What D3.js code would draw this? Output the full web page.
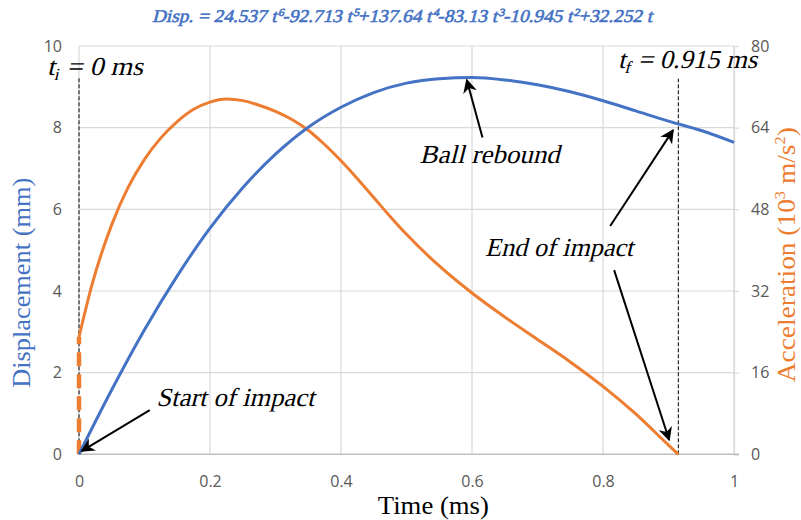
<!DOCTYPE html>
<html>
<head>
<meta charset="utf-8">
<script src="https://cdn.jsdelivr.net/npm/d3@7"></script>
<style>
  body { margin: 0; background: #fff; }
  svg { display: block; }
</style>
</head>
<body>
<script>
// time in ms
const time = [0, 0.05, 0.1, 0.15, 0.2, 0.25, 0.3, 0.35, 0.4, 0.45, 0.5, 0.55, 0.6, 0.65, 0.7, 0.75, 0.8, 0.85, 0.9, 0.95, 1.0];
// displacement in mm
const disp = [0, 1.58, 3.05, 4.37, 5.54, 6.53, 7.35, 8.01, 8.50, 8.86, 9.09, 9.20, 9.23, 9.17, 9.05, 8.88, 8.66, 8.41, 8.16, 7.93, 7.64];

// acceleration (10^3 m/s^2), orange curve
const accTime = [0, 0.02, 0.05, 0.075, 0.1, 0.125, 0.15, 0.175, 0.2, 0.225, 0.25, 0.275, 0.3, 0.325, 0.35, 0.375, 0.4, 0.425, 0.45, 0.475, 0.5, 0.55, 0.6, 0.65, 0.7, 0.75, 0.8, 0.85, 0.9, 0.915];
const acc = [23, 33.3, 45, 52.3, 57.8, 62, 65.2, 67.6, 69.0, 69.6, 69.3, 68.4, 67.2, 65.6, 63.5, 60.7, 57.5, 54.0, 50.3, 46.6, 43.1, 36.9, 31.6, 26.9, 22.5, 18.1, 13.3, 7.9, 1.8, 0];

const dispTicks = [0, 2, 4, 6, 8, 10];
const accTicks = [0, 16, 32, 48, 64, 80];
const timeTicks = [0, 0.2, 0.4, 0.6, 0.8, 1];

const tImpactStart = 0, tImpactEnd = 0.915;

const w = 801, h = 520;
const blue = "#4472c4", orange = "#ed7d31";
const serif = "'Liberation Serif', 'Times New Roman', serif";

const x = d3.scaleLinear().domain([0, 1]).range([79, 734]);
const yL = d3.scaleLinear().domain([0, 10]).range([454.3, 46]);
const yR = d3.scaleLinear().domain([0, 80]).range([454.3, 46]);

const svg = d3.select("body").append("svg")
  .attr("width", w).attr("height", h);

svg.append("defs").append("marker")
  .attr("id", "arr")
  .attr("viewBox", "0 0 10 10")
  .attr("refX", 9).attr("refY", 5)
  .attr("markerWidth", 7).attr("markerHeight", 7)
  .attr("markerUnits", "strokeWidth")
  .attr("orient", "auto")
  .append("path")
  .attr("d", "M0,0 L10,5 L0,10 L3,5 Z")
  .attr("fill", "#000");

// grid
svg.append("g").selectAll("line")
  .data(dispTicks.slice(1))
  .enter().append("line")
  .attr("x1", x(0)).attr("x2", x(1))
  .attr("y1", d => yL(d)).attr("y2", d => yL(d))
  .attr("stroke", "#d9d9d9").attr("stroke-width", 1.2);

svg.append("g").selectAll("line")
  .data(timeTicks)
  .enter().append("line")
  .attr("x1", d => x(d)).attr("x2", d => x(d))
  .attr("y1", yL(0)).attr("y2", yL(10))
  .attr("stroke", "#d9d9d9").attr("stroke-width", 1.2);

// axes
const leftAxis = svg.append("g")
  .attr("transform", "translate(" + x(0) + ",0)")
  .call(d3.axisLeft(yL).tickValues(dispTicks).tickSize(0).tickPadding(17));
leftAxis.select(".domain").remove();

const rightAxis = svg.append("g")
  .attr("transform", "translate(" + x(1) + ",0)")
  .call(d3.axisRight(yR).tickValues(accTicks).tickSize(5).tickPadding(12));
rightAxis.select(".domain").attr("stroke", "#d9d9d9").attr("stroke-width", 1.2);
rightAxis.selectAll(".tick line").attr("stroke", "#d9d9d9").attr("stroke-width", 1.2);

const bottomAxis = svg.append("g")
  .attr("transform", "translate(0," + yL(0) + ")")
  .call(d3.axisBottom(x).tickValues(timeTicks).tickSize(0).tickPadding(21).tickFormat(d3.format("")));
bottomAxis.select(".domain").attr("stroke", "#bfbfbf").attr("stroke-width", 1.4)
  .attr("d", "M" + x(0) + ",0H" + (x(1) + 5));

svg.selectAll(".tick text")
  .attr("fill", "#595959")
  .style("font-family", "'Open Sans', sans-serif")
  .style("font-size", "16px");

// axis titles
svg.append("text")
  .attr("transform", "translate(30," + yL(4.2) + ") rotate(-90)")
  .attr("text-anchor", "middle")
  .attr("fill", blue)
  .attr("textLength", 210)
  .attr("lengthAdjust", "spacingAndGlyphs")
  .style("font-family", serif)
  .style("font-size", "26px")
  .text("Displacement (mm)");

const accLabel = svg.append("text")
  .attr("transform", "translate(795," + yR(39.1) + ") rotate(-90)")
  .attr("text-anchor", "middle")
  .attr("fill", orange)
  .attr("textLength", 255)
  .attr("lengthAdjust", "spacingAndGlyphs")
  .style("font-family", serif)
  .style("font-size", "25px");
accLabel.append("tspan").text("Acceleration (10");
accLabel.append("tspan").attr("dy", -10).style("font-size", "15px").text("3");
accLabel.append("tspan").attr("dy", 10).text(" m/s");
accLabel.append("tspan").attr("dy", -10).style("font-size", "15px").text("2");
accLabel.append("tspan").attr("dy", 10).text(")");

svg.append("text")
  .attr("x", x(0.541)).attr("y", 514)
  .attr("text-anchor", "middle")
  .attr("fill", "#000")
  .attr("textLength", 111)
  .attr("lengthAdjust", "spacingAndGlyphs")
  .style("font-family", serif)
  .style("font-size", "26px")
  .text("Time (ms)");

// italic is faked with a skew, the serif face has no italic here
function slanted(px, py, len) {
  return svg.append("text")
    .attr("transform", "translate(" + px + "," + py + ") skewX(-14)")
    .attr("textLength", len)
    .attr("lengthAdjust", "spacingAndGlyphs")
    .style("font-family", serif);
}

// title with the fitted polynomial
const coef = ["24.537", "-92.713", "+137.64", "-83.13", "-10.945", "+32.252"];
const pw = ["6", "5", "4", "3", "2", ""];
const title = slanted(152, 22, 500)
  .attr("fill", blue)
  .attr("stroke", blue).attr("stroke-width", 0.6)
  .style("font-size", "18px");
title.append("tspan").text("Disp. = ");
coef.forEach((c, i) => {
  title.append("tspan").attr("dy", i === 0 ? 0 : 6).text(c + " t");
  if (pw[i]) title.append("tspan").attr("dy", -6).style("font-size", "11px").text(pw[i]);
});

// dashed markers for start and end of impact
svg.append("line")
  .attr("x1", x(tImpactStart)).attr("x2", x(tImpactStart))
  .attr("y1", yL(0)).attr("y2", yL(9.22))
  .attr("stroke", "#000").attr("stroke-width", 1).attr("stroke-dasharray", "4,2");
svg.append("line")
  .attr("x1", x(tImpactEnd)).attr("x2", x(tImpactEnd))
  .attr("y1", yL(0)).attr("y2", yL(9.2))
  .attr("stroke", "#000").attr("stroke-width", 1).attr("stroke-dasharray", "4,2");

// curves
const lineD = d3.line()
  .x((d, i) => x(time[i]))
  .y(d => yL(d))
  .curve(d3.curveMonotoneX);

const lineA = d3.line()
  .x((d, i) => x(accTime[i]))
  .y(d => yR(d))
  .curve(d3.curveMonotoneX);

// dashed jump of acceleration at t = 0
svg.append("path")
  .datum([[0, 0], [0, acc[0]]])
  .attr("d", d3.line().x(d => x(d[0])).y(d => yR(d[1])))
  .attr("fill", "none")
  .attr("stroke", orange).attr("stroke-width", 4.5)
  .attr("stroke-dasharray", "14,8");

svg.append("path")
  .datum(acc)
  .attr("d", lineA)
  .attr("fill", "none")
  .attr("stroke", orange).attr("stroke-width", 3);

svg.append("path")
  .datum(disp)
  .attr("d", lineD)
  .attr("fill", "none")
  .attr("stroke", blue).attr("stroke-width", 3);

// annotations
const noteText = ["Start of impact", "Ball rebound", "End of impact"];
const noteT = [0.118, 0.52, 0.62];
const noteD = [1.18, 7.14, 4.85];
const noteLen = [158, 140, 148];

noteText.forEach((s, i) => {
  slanted(x(noteT[i]), yL(noteD[i]), noteLen[i])
    .attr("fill", "#000")
    .style("font-size", "26px")
    .text(s);
});

// arrows: [from t, from disp, to t, to disp]
const arrows = [
  [0.108, 1.08, 0.004, 0.08],
  [0.616, 7.76, 0.592, 9.17],
  [0.811, 5.59, 0.907, 7.94],
  [0.817, 4.51, 0.901, 0.35]
];
svg.append("g").selectAll("line")
  .data(arrows)
  .enter().append("line")
  .attr("x1", d => x(d[0])).attr("y1", d => yL(d[1]))
  .attr("x2", d => x(d[2])).attr("y2", d => yL(d[3]))
  .attr("stroke", "#000").attr("stroke-width", 2)
  .attr("marker-end", "url(#arr)");

// t_i and t_f labels
function tLabel(t, d, len, sub, rest) {
  const txt = slanted(x(t), yL(d), len)
    .attr("fill", "#000")
    .style("font-size", "26px");
  txt.append("tspan").text("t");
  txt.append("tspan").attr("dy", 5).style("font-size", "17px").text(sub);
  txt.append("tspan").attr("dy", -5).text(rest);
}
tLabel(-0.049, 9.3, 96, "i", " = 0 ms");
tLabel(0.823, 9.46, 139, "f", " = 0.915 ms");
</script>
</body>
</html>
